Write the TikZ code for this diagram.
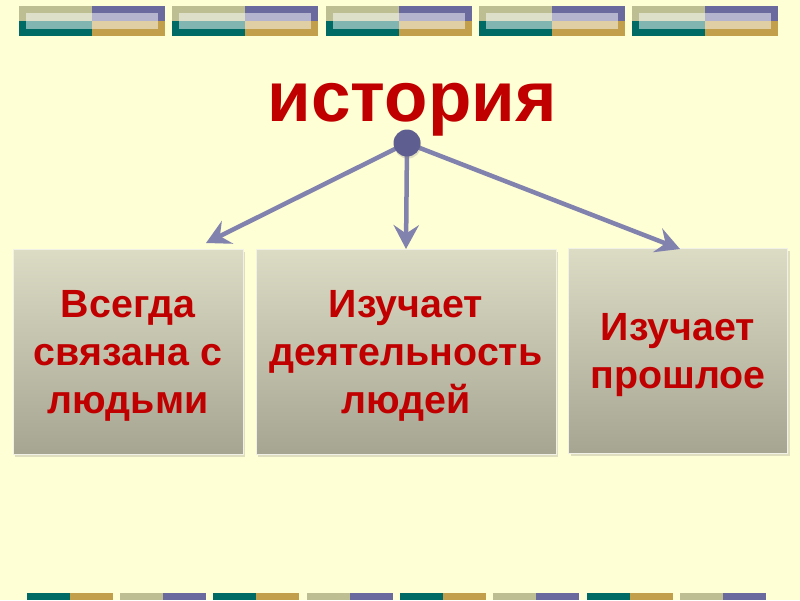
\documentclass[tikz,border=0pt]{standalone}
\usepackage{fontspec}
\setmainfont{Liberation Sans}
\usetikzlibrary{arrows.meta,shadows}

\definecolor{paper}{HTML}{FFFFD5}
\definecolor{olive}{HTML}{BDBF92}
\definecolor{plum}{HTML}{6A6A9E}
\definecolor{teal}{HTML}{006B65}
\definecolor{gold}{HTML}{C19F4B}
\definecolor{redtext}{HTML}{C00000}
\definecolor{arrowblue}{HTML}{8282AE}
\definecolor{hubblue}{HTML}{5E5E90}
\definecolor{cardtop}{HTML}{DCDCC5}
\definecolor{cardbottom}{HTML}{A6A592}

\begin{document}
\begin{tikzpicture}[
            x = 0.025cm, y = -0.025cm,
            topic/.style = {font = \bfseries\fontsize{50.5}{56}\selectfont, text = redtext},
            card/.style = {rectangle, draw = white!60!cardtop, line width = 0.5pt,
                           top color = cardtop, bottom color = cardbottom,
                           drop shadow = {opacity = 0.25, shadow xshift = 1.5pt, shadow yshift = -2pt},
                           minimum height = 205*0.025cm, align = center, text = redtext,
                           text depth = 0pt, font = \bfseries\fontsize{28}{34}\selectfont},
            link/.style = {arrowblue, line width = 3.2pt,
                           -{Stealth[length = 17pt, width = 18pt, inset = 6pt]}}
            ]
            % background
            \fill[paper] (0,0) rectangle (800,600);
            \useasboundingbox (0,0) rectangle (800,600);

            % strips at the top
            \foreach \x in {19,172,326,479,632}{
                \fill[olive] (\x,6) rectangle ++(73,15);
                \fill[plum] (\x+73,6) rectangle ++(73,15);
                \fill[teal] (\x,21) rectangle ++(73,15);
                \fill[gold] (\x+73,21) rectangle ++(73,15);
                \fill[white, opacity = 0.5] (\x+7,13) rectangle (\x+139,29);
            }

            % strips at the bottom
            \foreach \x/\a/\b in {27/teal/gold,120/olive/plum,213/teal/gold,307/olive/plum,
                                  400/teal/gold,493/olive/plum,587/teal/gold,680/olive/plum}{
                \fill[\a] (\x,593) rectangle ++(43,7);
                \fill[\b] (\x+43,593) rectangle ++(43,7);
            }

            \node[topic, anchor = base] (title) at (412,121) {история};

            \node[card, minimum width = 230*0.025cm] (people) at (128,352) {Всегда\\связана с\\людьми};
            \node[card, minimum width = 300*0.025cm] (deeds) at (406,352) {Изучает\\деятельность\\людей};
            \node[card, minimum width = 219*0.025cm] (past) at (678,351) {Изучает\\прошлое};

            \coordinate (hub) at (407,143);
            \coordinate (tipA) at (206,243);
            \coordinate (tipB) at (406,249);
            \coordinate (tipC) at (680,249);

            \draw[link] (hub) -- (tipA);
            \draw[link] (hub) -- (tipB);
            \draw[link] (hub) -- (tipC);

            \node[circle, minimum size = 27*0.025cm, inner sep = 0pt, fill = hubblue,
                  drop shadow = {opacity = 0.25, shadow xshift = 0.5pt, shadow yshift = -1.5pt}] (knot) at (hub) {};
\end{tikzpicture}
\end{document}
